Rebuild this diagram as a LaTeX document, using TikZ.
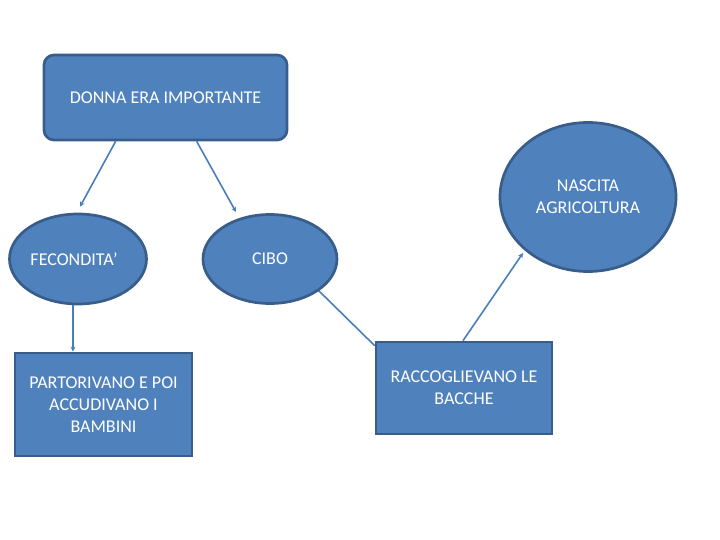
\documentclass[tikz,border=0pt]{standalone}
\usepackage{fontspec}
\setmainfont{Carlito}
\usetikzlibrary{shapes.geometric,arrows.meta,backgrounds}
\definecolor{boxfill}{HTML}{4F81BD}
\definecolor{boxline}{HTML}{385D8A}
\definecolor{conn}{HTML}{4A7EBB}
\tikzset{
  base/.style={draw=boxline, line width=2.7pt, fill=boxfill, text=white, align=center,
    font=\fontsize{18pt}{22pt}\selectfont, inner sep=0pt},
  rbox/.style={base, rectangle},
  ebox/.style={base, ellipse},
  link/.style={draw=conn, line width=1.6pt},
  arr/.style={link, -{Stealth[length=5pt,width=5pt]}}
}
\begin{document}
\begin{tikzpicture}[x=1pt,y=-1pt]
\useasboundingbox (0,0) rectangle (720,540);
\node[rbox, rounded corners=10pt, minimum width=243pt, minimum height=85pt] (donna) at (165.5,97.5) {DONNA ERA IMPORTANTE};
\node[ebox, minimum width=137pt, minimum height=90pt] (fec) at (78,259) {FECONDITA’\hspace{8pt}};
\node[ebox, minimum width=134pt, minimum height=89pt] (cibo) at (270,259) {CIBO};
\node[ebox, minimum width=176pt, minimum height=149pt] (nas) at (588,197) {NASCITA\\AGRICOLTURA};
\node[rbox, minimum width=177pt, minimum height=103pt] (part) at (103.5,404.5) {PARTORIVANO E POI\\ACCUDIVANO I\\BAMBINI};
\node[rbox, minimum width=176pt, minimum height=92pt] (racc) at (464,388) {RACCOGLIEVANO LE\\BACCHE};
\begin{scope}[on background layer]
\draw[arr] ([xshift=73pt]donna.south west) -- ([xshift=2pt,yshift=6pt]fec.north);
\draw[arr] ([xshift=154pt]donna.south west) -- ([xshift=-34pt,yshift=47pt]cibo.center);
\draw[arr] ([xshift=-5pt]fec.south) -- ([xshift=-5pt]fec.south |- part.north);
\draw[link] ([xshift=48pt,yshift=-31pt]cibo.center) -- ([yshift=-5pt]racc.north west);
\draw[arr] ([xshift=-1pt]racc.north) -- ([xshift=-65pt,yshift=-56pt]nas.center);
\end{scope}
\end{tikzpicture}
\end{document}
